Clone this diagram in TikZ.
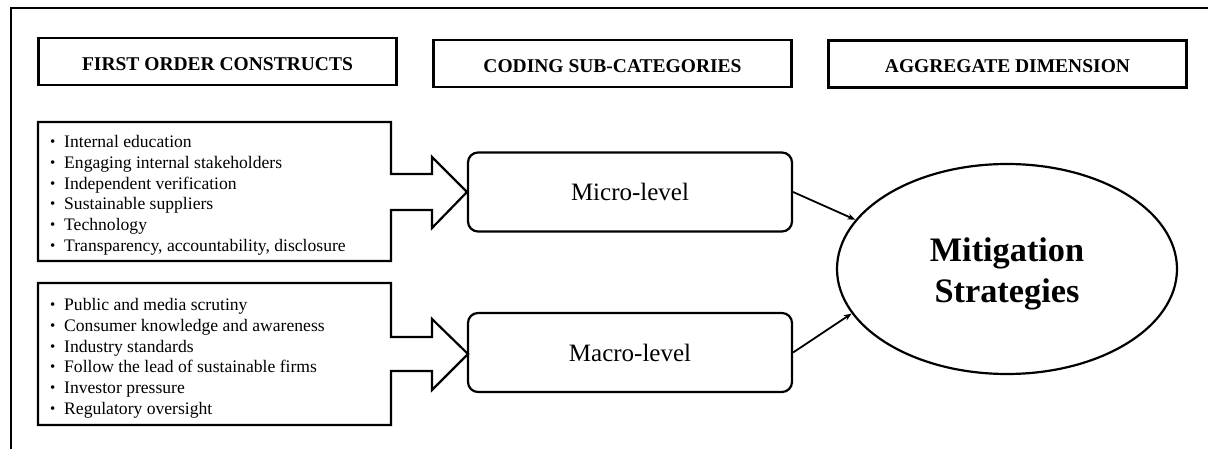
\documentclass[tikz,border=0pt]{standalone}
\usepackage{fontspec}
\setmainfont{Liberation Serif}
\usetikzlibrary{arrows.meta,shapes.geometric}
\newcommand\lbul{\makebox[14pt][l]{\raisebox{1pt}{\scalebox{0.85}{\textbullet}}}}
\begin{document}
\begin{tikzpicture}[x=1pt,y=-1pt,
  frame/.style={line width=2.2pt},
  head/.style={draw,line width=2.4pt,minimum width=358pt,minimum height=47pt,inner sep=0pt,text height=18pt,text depth=0pt,font=\fontsize{19.5}{22}\selectfont\bfseries},
  level/.style={draw,line width=2.2pt,rounded corners=10pt,minimum width=324pt,minimum height=79pt,inner sep=0pt,font=\fontsize{25}{28}\selectfont},
  listtext/.style={anchor=north west,inner sep=0pt,align=left,font=\fontsize{17.6}{20.8}\selectfont},
  outline/.style={draw,line width=2.2pt,line join=miter},
  link/.style={line width=1.8pt,-{Stealth[length=8pt,width=6pt]}},
]
\useasboundingbox (0,0) rectangle (1208,449);
\draw[frame] (11,452) -- (11,8) -- (1212,8);

% headers
\node[head] (h1) at (217.5,61.5) {FIRST ORDER CONSTRUCTS};
\node[head] (h2) at (612.5,63.5) {CODING SUB-CATEGORIES};
\node[head] (h3) at (1007.5,64) {AGGREGATE DIMENSION};

% list boxes with arrow outlines
\draw[outline] (38,122) -- (391,122) -- (391,174) -- (432,174) -- (432,157) -- (467,192)
  -- (432,228) -- (432,210) -- (391,210) -- (391,261) -- (38,261) -- cycle;
\draw[outline] (38,283) -- (391,283) -- (391,337) -- (432,337) -- (432,319) -- (468,354)
  -- (432,390) -- (432,371) -- (391,371) -- (391,425) -- (38,425) -- cycle;

\node[listtext] (l1) at (50,135) {\lbul Internal education\\
\lbul Engaging internal stakeholders\\
\lbul Independent verification\\
\lbul Sustainable suppliers\\
\lbul Technology\\
\lbul Transparency, accountability, disclosure};

\node[listtext] (l2) at (50,298) {\lbul Public and media scrutiny\\
\lbul Consumer knowledge and awareness\\
\lbul Industry standards\\
\lbul Follow the lead of sustainable firms\\
\lbul Investor pressure\\
\lbul Regulatory oversight};

% sub-categories
\node[level] (micro) at (630,192) {Micro-level};
\node[level] (macro) at (630,352.5) {Macro-level};

% aggregate
\node[draw,ellipse,line width=2.2pt,minimum width=340pt,minimum height=210pt,inner sep=0pt,
  label={[font=\fontsize{34.3}{41}\selectfont\bfseries,align=center,yshift=-5pt]center:Mitigation\\Strategies}] (ell) at (1007,269) {};

\draw[link] (micro.east) -- (ell.162.7);
\draw[link] (macro.east) -- (ell.196.6);
\end{tikzpicture}
\end{document}
